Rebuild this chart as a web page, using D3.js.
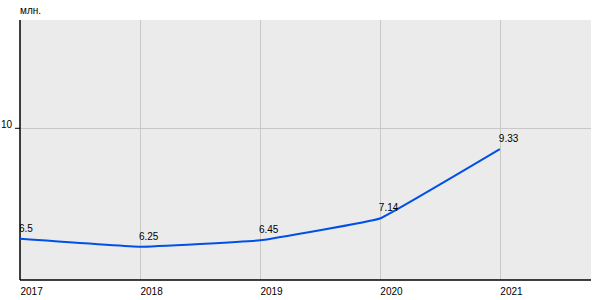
<!DOCTYPE html>
<html>
<head>
<meta charset="utf-8">
<script src="https://cdn.jsdelivr.net/npm/d3@7"></script>
<style>
  body { margin: 0; background: #fff; }
  text { font-family: "Liberation Sans", Arial, sans-serif; font-size: 10px; fill: #000; }
</style>
</head>
<body>
<svg class="chart" width="600" height="300"></svg>
<script>
const years = [2017, 2018, 2019, 2020, 2021];
const values = [6.5, 6.25, 6.45, 7.14, 9.33];
const valueLabels = ["6.5", "6.25", "6.45", "7.14", "9.33"];
const yTicks = [10];
const unitLabel = "млн.";

function drawChart() {
  const svg = d3.select(".chart");
  const margin = { top: 20, right: 9, bottom: 20, left: 20 };
  const width = +svg.attr("width") - margin.left - margin.right;
  const height = +svg.attr("height") - margin.top - margin.bottom;

  const x = d3.scaleLinear().domain([2017, 2021.76]).range([0, width]);
  const y = d3.scaleLinear().domain([5.2, 13.4]).range([height, 0]);

  const g = svg.append("g").attr("transform", `translate(${margin.left},${margin.top})`);

  g.append("rect").attr("width", width).attr("height", height).attr("fill", "#ebebeb");

  g.append("defs").append("clipPath").attr("id", "plot")
    .append("rect").attr("width", width).attr("height", height);

  // grid
  g.selectAll(".vgrid")
    .data(years.slice(1))
    .enter()
    .append("line")
    .attr("x1", (d) => Math.round(x(d)) + 0.5)
    .attr("x2", (d) => Math.round(x(d)) + 0.5)
    .attr("y1", 0)
    .attr("y2", height)
    .attr("stroke", "#c8c8c8");

  g.selectAll(".hgrid")
    .data(yTicks)
    .enter()
    .append("line")
    .attr("x1", 0)
    .attr("x2", width)
    .attr("y1", (d) => Math.round(y(d)) + 0.5)
    .attr("y2", (d) => Math.round(y(d)) + 0.5)
    .attr("stroke", "#c8c8c8");

  const xAxis = d3.axisBottom(x).tickValues(years).tickFormat(d3.format("d")).tickSize(0).tickPadding(6);
  g.append("g")
    .attr("transform", `translate(0,${height})`)
    .call(xAxis)
    .call((a) => a.select(".domain").attr("stroke", "#000").attr("stroke-width", 1.5).attr("d", `M0,0H${width}`))
    .selectAll("text")
    .attr("text-anchor", "start")
    .attr("dy", "0.9em");

  const yAxis = d3.axisLeft(y).tickValues(yTicks).tickSize(5).tickPadding(3);
  g.append("g")
    .call(yAxis)
    .call((a) => a.select(".domain").attr("stroke", "#000").attr("stroke-width", 1.5).attr("d", `M0,0V${height}`))
    .call((a) => a.selectAll(".tick line").attr("stroke", "#000"))
    .selectAll("text")
    .attr("dy", "-0.05em");

  svg.append("text").attr("x", margin.left).attr("y", 14).text(unitLabel);

  const data = years.map((d, i) => ({ year: d, value: values[i], label: valueLabels[i] }));

  // nearly straight segments, slightly rounded at the joints
  const line = d3
    .line()
    .x((d) => x(d.year))
    .y((d) => y(d.value))
    .curve(d3.curveCardinal.tension(0.8));

  g.append("path")
    .datum(data)
    .attr("d", line)
    .attr("fill", "none")
    .attr("stroke", "#0050e6")
    .attr("stroke-width", 2);

  g.append("g")
    .attr("clip-path", "url(#plot)")
    .selectAll(".point-label")
    .data(data)
    .enter()
    .append("text")
    .attr("x", (d) => x(d.year) - 1)
    .attr("y", (d) => y(d.value) - 7)
    .text((d) => d.label);
}

drawChart();
</script>
</body>
</html>
